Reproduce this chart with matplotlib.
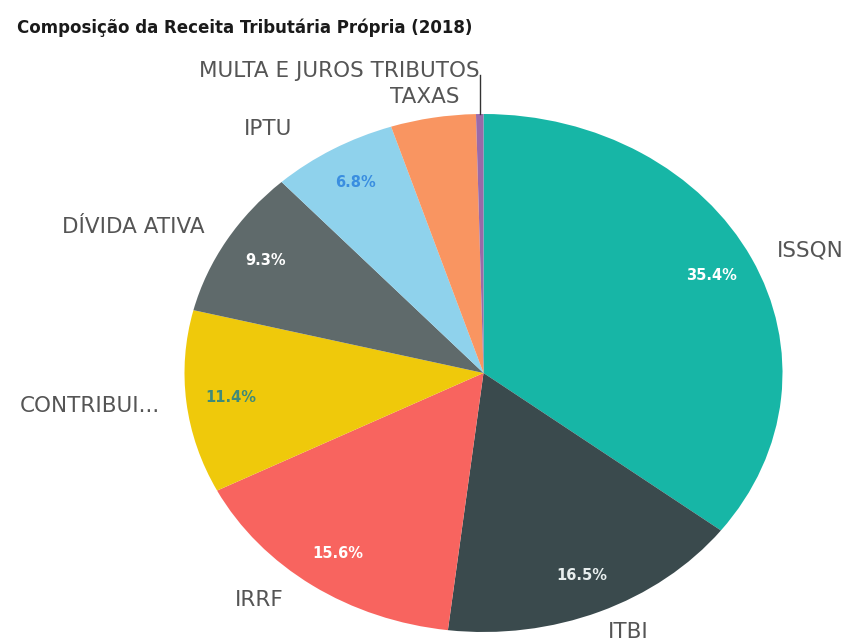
import numpy as np
import matplotlib.pyplot as plt

# dados (fatias no sentido horário a partir do topo)
categorias = ["ISSQN", "ITBI", "IRRF", "CONTRIBUI...", "DÍVIDA ATIVA", "IPTU", "TAXAS",
              "MULTA E JUROS TRIBUTOS"]
valores = [35.4, 16.5, 15.6, 11.4, 9.3, 6.8, 4.6, 0.4]
cores = ["#17b6a6", "#3a4a4d", "#f8645f", "#efc90b", "#5f6a6b", "#8fd2ec", "#f99561", "#9b6aa8"]
cor_pct = ["white", "#e8eeee", "white", "#3f8a78", "white", "#3a8ee0", None, None]

# ajustes de posição dos rótulos (fator radial x, fator radial y, alinhamento)
pos_rotulo = [(1.095, 1.07, "left"), (1.07, 1.086, "left"), (1.17, 1.07, "right"),
              (1.089, 1.13, "right"), (1.084, 1.10, "right"), (1.27, 1.09, "right"),
              (1.16, 1.08, "center"), (1.0, 1.166, "right")]

fig = plt.figure(figsize=(8.51, 6.41), dpi=100)
ax = fig.add_axes([184.5 / 851, 9 / 641, 598 / 851, 518 / 641])

ax.pie(valores, colors=cores, startangle=90, counterclock=False, radius=1,
       wedgeprops=dict(linewidth=0))
ax.set_aspect("auto")
ax.set_xlim(-1, 1)
ax.set_ylim(-1, 1)
ax.axis("off")

total = sum(valores)
acum = 0
for i, v in enumerate(valores):
    meio = np.deg2rad(90 - (acum + v / 2) / total * 360)
    acum += v
    cx, cy = np.cos(meio), np.sin(meio)
    fx, fy, ha = pos_rotulo[i]
    ax.text(cx * fx, cy * fy, categorias[i], ha=ha, va="center",
            fontsize=15.5, color="#555555")
    if cor_pct[i]:
        ax.text(cx * 0.85, cy * 0.85, f"{v:.1f}%", ha="center", va="center",
                fontsize=10.5, fontweight="bold", color=cor_pct[i])
    if categorias[i].startswith("MULTA"):
        ax.plot([cx, cx * 1.0], [cy * 1.0, cy * 1.15], color="#333333", lw=1,
                clip_on=False)

fig.text(17 / 851, 1 - 28 / 641, "Composição da Receita Tributária Própria (2018)",
         fontsize=12, fontweight="bold", color="#1a1a1a", va="center", ha="left")

fig.savefig("out.png", dpi=100)
